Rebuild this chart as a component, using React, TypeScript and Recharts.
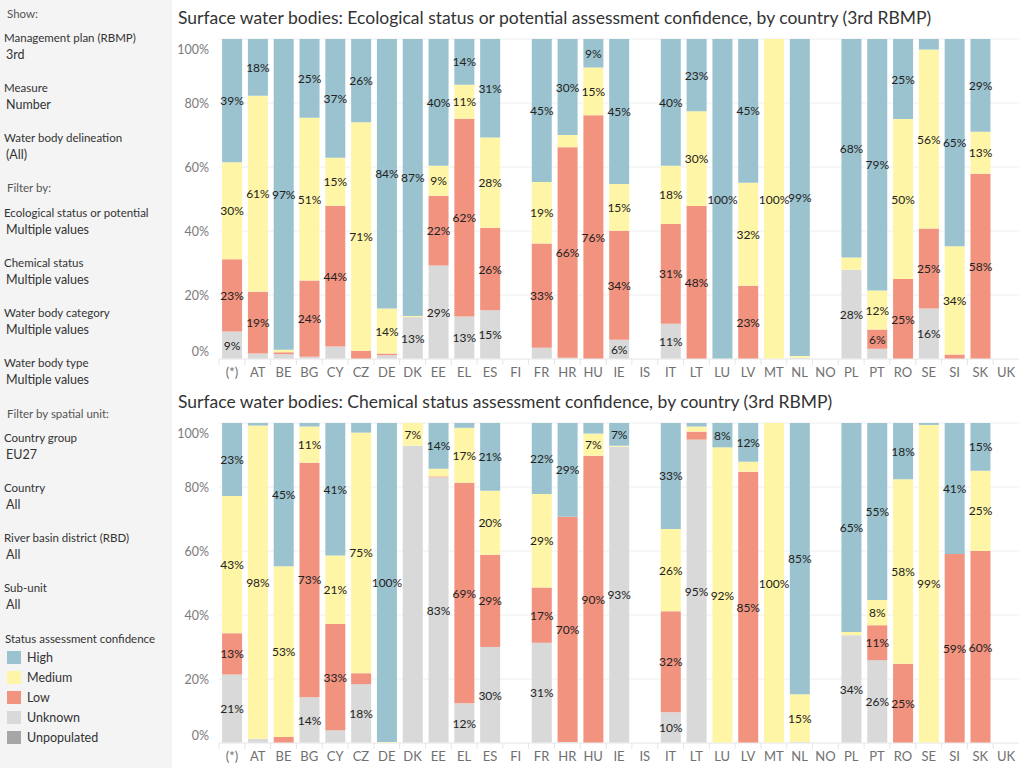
import React from 'react';
import { BarChart, Bar, XAxis, YAxis, CartesianGrid, LabelList } from 'recharts';

// Country codes along the category axis
const countries = ['(*)', 'AT', 'BE', 'BG', 'CY', 'CZ', 'DE', 'DK', 'EE', 'EL', 'ES', 'FI', 'FR', 'HR', 'HU', 'IE', 'IS', 'IT', 'LT', 'LU', 'LV', 'MT', 'NL', 'NO', 'PL', 'PT', 'RO', 'SE', 'SI', 'SK', 'UK'];

// Ecological status or potential – share of water bodies by assessment confidence (%)
const ecoUnknown = [8.6, 1.7, 1.5, 0.7, 3.9, 0, 1.2, 13.1, 29.2, 13.3, 15.2, 0, 3.5, 0.4, 0, 6.0, 0, 11.0, 0, 0, 0, 0, 0.4, 0, 27.9, 3.2, 0, 15.8, 0, 0, 0];
const ecoLow = [22.6, 19.3, 0.6, 23.8, 44.0, 2.6, 0.5, 0, 21.8, 61.8, 25.8, 0, 32.6, 65.8, 76.2, 34.1, 0, 31.2, 47.8, 0, 22.9, 0, 0, 0, 0, 6.0, 25.0, 25.0, 1.4, 57.9, 0];
const ecoMedium = [30.3, 61.3, 0.8, 50.9, 15.0, 71.4, 14.1, 0.3, 9.4, 10.6, 28.2, 0, 19.2, 3.8, 14.9, 14.6, 0, 18.2, 29.6, 0, 32.2, 100, 0.5, 0, 3.8, 12.2, 50.0, 55.9, 33.8, 13.1, 0];
const ecoHigh = [38.5, 17.7, 97.1, 24.6, 37.1, 26.0, 84.2, 86.6, 39.6, 14.3, 30.8, 0, 44.7, 30.0, 8.9, 45.3, 0, 39.6, 22.6, 100, 44.9, 0, 99.1, 0, 68.3, 78.6, 25.0, 3.3, 64.8, 29.0, 0];

// Chemical status – share of water bodies by assessment confidence (%)
const chemUnknown = [21.4, 1.3, 0, 14.3, 4.0, 18.4, 0, 92.9, 83.0, 12.4, 30.0, 0, 31.3, 0.3, 0, 92.6, 0, 9.6, 94.8, 0, 0, 0, 0.3, 0, 33.7, 25.9, 0, 0, 0, 0, 0];
const chemLow = [12.9, 0, 1.9, 73.3, 33.2, 3.4, 0, 0, 0.3, 68.9, 28.8, 0, 17.3, 70.4, 89.8, 0, 0, 31.6, 2.5, 0, 84.8, 0, 0, 0, 0, 10.9, 24.8, 0, 59.1, 60.0, 0];
const chemMedium = [42.9, 97.9, 53.3, 11.3, 21.4, 75.2, 0.3, 7.1, 2.4, 17.2, 20.0, 0, 29.2, 0, 6.9, 0.3, 0, 25.7, 1.6, 92.4, 3.1, 100, 14.9, 0, 1.0, 7.9, 57.6, 99.4, 0, 25.1, 0];
const chemHigh = [22.8, 0.8, 44.8, 1.1, 41.4, 3.0, 99.7, 0, 14.3, 1.5, 21.2, 0, 22.2, 29.3, 3.3, 7.1, 0, 33.1, 1.1, 7.6, 12.1, 0, 84.8, 0, 65.3, 55.3, 17.6, 0.6, 40.9, 14.9, 0];

// Segment labels the dashboard drops because of overlap (country:level)
const chemHiddenLabels = ['DK:Unknown'];

const yTicks = [0, 20, 40, 60, 80, 100];

const levels = ['Unknown', 'Low', 'Medium', 'High'];
const levelColors: Record<string, string> = {
  High: '#9bc3cf',
  Medium: '#fff5a6',
  Low: '#f1937f',
  Unknown: '#d9d9d9',
  Unpopulated: '#a6a6a6',
};
const legendItems = ['High', 'Medium', 'Low', 'Unknown', 'Unpopulated'];

const FONT = 'Lato, "Noto Sans", sans-serif';
const MIN_LABEL = 5;

function buildRows(u: number[], l: number[], m: number[], h: number[], hidden: string[]) {
  return countries.map((c, i) => {
    const row: Record<string, any> = { country: c, Unknown: u[i], Low: l[i], Medium: m[i], High: h[i] };
    levels.forEach((lv) => {
      const v = row[lv];
      row[lv + 'Label'] = v >= MIN_LABEL && !hidden.includes(c + ':' + lv) ? v : null;
    });
    return row;
  });
}

const ecoRows = buildRows(ecoUnknown, ecoLow, ecoMedium, ecoHigh, []);
const chemRows = buildRows(chemUnknown, chemLow, chemMedium, chemHigh, chemHiddenLabels);

const CHART_W = 849;
const CHART_H = 354;
const Y_AXIS_W = 44;
const MARGIN = { top: 9, right: 5, left: 0, bottom: 0 };
const PLOT_W = CHART_W - Y_AXIS_W - MARGIN.left - MARGIN.right;

const YTick = (props: any) => {
  const { x, y, payload } = props;
  const v = payload.value;
  const dy = v === 100 ? 10 : v === 0 ? -8 : 0;
  return (
    <text x={x - 2} y={y + dy} textAnchor="end" dominantBaseline="central" fill="#7a7a7a" fontSize={12.5} fontFamily={FONT}>
      {v}%
    </text>
  );
};

const XTick = (props: any) => {
  const { x, y, payload } = props;
  const half = PLOT_W / countries.length / 2;
  return (
    <g>
      <line x1={x - half} x2={x - half} y1={y - 8} y2={y - 2} stroke="#e6e6e6" />
      <text x={x} y={y + 5} textAnchor="middle" dominantBaseline="central" fill="#707070" fontSize={13} fontFamily={FONT}>
        {payload.value}
      </text>
    </g>
  );
};

const SegmentLabel = (props: any) => {
  const { x, y, width, height, value } = props;
  if (value == null) return null;
  return (
    <text x={x + width / 2} y={y + height / 2} textAnchor="middle" dominantBaseline="central" fill="#222" fontSize={12} fontFamily={FONT}>
      {Math.round(value)}%
    </text>
  );
};

function StackChart({ rows }: { rows: any[] }) {
  return (
    <BarChart width={CHART_W} height={CHART_H} data={rows} margin={MARGIN} barCategoryGap="12%">
      <CartesianGrid vertical={false} stroke="#eeeeee" />
      <XAxis dataKey="country" axisLine={{ stroke: '#eeeeee' }} tickLine={false} height={25} interval={0} tick={<XTick />} />
      <YAxis domain={[0, 100]} ticks={yTicks} width={Y_AXIS_W} axisLine={false} tickLine={false} tick={<YTick />} allowDataOverflow />
      {levels.map((lv) => (
        <Bar key={lv} dataKey={lv} stackId="s" fill={levelColors[lv]} isAnimationActive={false}>
          <LabelList dataKey={lv + 'Label'} content={<SegmentLabel />} />
        </Bar>
      ))}
    </BarChart>
  );
}

const sideBlocks: { head?: string; label?: string; value?: string; y: number }[] = [
  { head: 'Show:', y: 14 },
  { label: 'Management plan (RBMP)', value: '3rd', y: 38 },
  { label: 'Measure', value: 'Number', y: 88 },
  { label: 'Water body delineation', value: '(All)', y: 138 },
  { head: 'Filter by:', y: 188 },
  { label: 'Ecological status or potential', value: 'Multiple values', y: 213 },
  { label: 'Chemical status', value: 'Multiple values', y: 263 },
  { label: 'Water body category', value: 'Multiple values', y: 313 },
  { label: 'Water body type', value: 'Multiple values', y: 363 },
  { head: 'Filter by spatial unit:', y: 414 },
  { label: 'Country group', value: 'EU27', y: 438 },
  { label: 'Country', value: 'All', y: 488 },
  { label: 'River basin district (RBD)', value: 'All', y: 538 },
  { label: 'Sub-unit', value: 'All', y: 588 },
];

const lineStyle = (y: number, x: number, size: number, color: string): React.CSSProperties => ({
  position: 'absolute',
  left: x,
  top: y - 10,
  height: 20,
  lineHeight: '20px',
  fontSize: size,
  color,
  whiteSpace: 'nowrap',
});

export default function App() {
  return (
    <div style={{ position: 'absolute', left: 0, top: 0, width: 1024, height: 768, background: '#fff', fontFamily: FONT, overflow: 'hidden' }}>
      <div style={{ position: 'absolute', left: 0, top: 0, width: 172, height: 768, background: '#f4f4f4' }}>
        {sideBlocks.map((b, i) => (
          <React.Fragment key={i}>
            {b.head && <div style={lineStyle(b.y, 7, 11.5, '#555')}>{b.head}</div>}
            {b.label && <div style={lineStyle(b.y, 4, 11.5, '#333')}>{b.label}</div>}
            {b.value && <div style={lineStyle(b.y + 17, 6, 12.5, '#333')}>{b.value}</div>}
          </React.Fragment>
        ))}
        <div style={lineStyle(639, 5, 11.5, '#333')}>Status assessment confidence</div>
        {legendItems.map((it, i) => (
          <React.Fragment key={it}>
            <div style={{ position: 'absolute', left: 7, top: 651 + i * 20, width: 14, height: 13, background: levelColors[it] }} />
            <div style={lineStyle(658 + i * 20, 27, 12.5, '#333')}>{it}</div>
          </React.Fragment>
        ))}
      </div>

      <div style={{ ...lineStyle(18, 178, 17.5, '#333') }}>
        Surface water bodies: Ecological status or potential assessment confidence, by country (3rd RBMP)
      </div>
      <div style={{ position: 'absolute', left: 175, top: 30 }}>
        <StackChart rows={ecoRows} />
      </div>

      <div style={{ ...lineStyle(402, 178, 17.5, '#333') }}>
        Surface water bodies: Chemical status assessment confidence, by country (3rd RBMP)
      </div>
      <div style={{ position: 'absolute', left: 175, top: 414 }}>
        <StackChart rows={chemRows} />
      </div>
    </div>
  );
}
